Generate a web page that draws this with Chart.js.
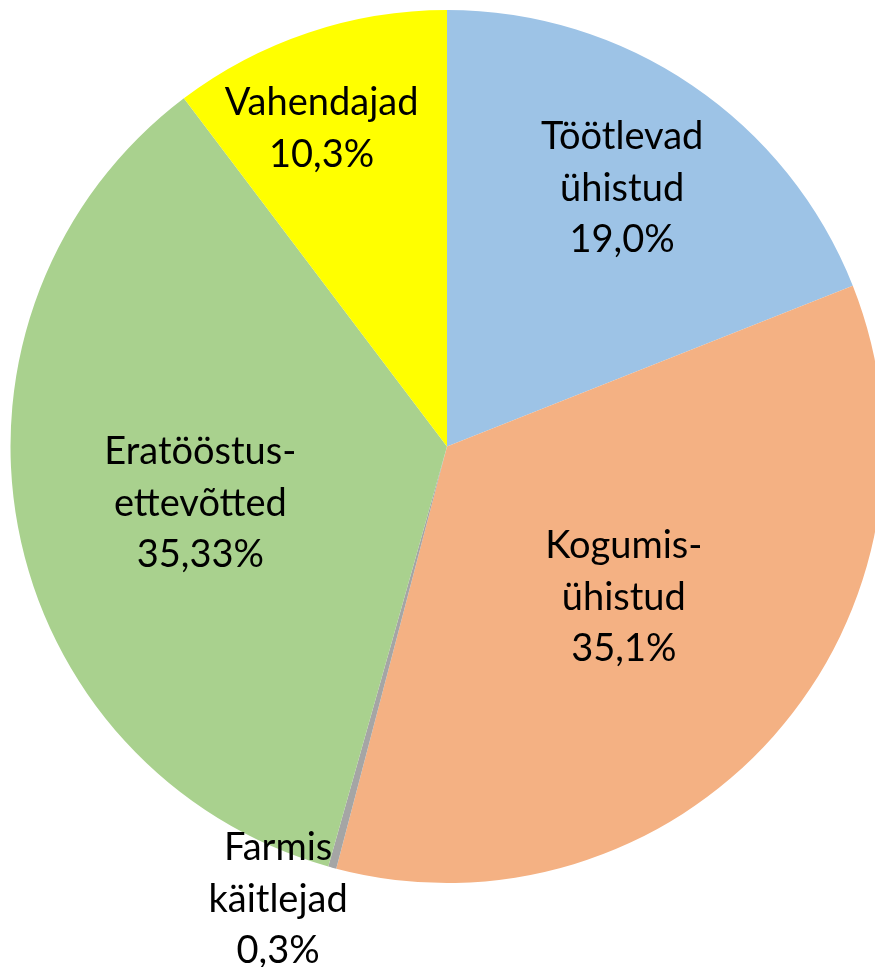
<!DOCTYPE html>
<html>
<head>
<meta charset="utf-8">
<script src="https://cdn.jsdelivr.net/npm/chart.js@4/dist/chart.umd.min.js"></script>
<style>
  html, body { margin: 0; padding: 0; background: #fff; overflow: hidden; }
  #wrap { position: relative; width: 894px; height: 967px; }
</style>
</head>
<body>
<div id="wrap"><canvas id="c"></canvas></div>
<script>
// Data
const categories = [
  ["Töötlevad", "ühistud"],
  ["Kogumis-", "ühistud"],
  ["Farmis", "käitlejad"],
  ["Eratööstus-", "ettevõtted"],
  ["Vahendajad"]
];
const shares = [19.0, 35.1, 0.3, 35.33, 10.3];
const shareLabels = ["19,0%", "35,1%", "0,3%", "35,33%", "10,3%"];

// Styles
const colors = ["#9DC3E6", "#F4B183", "#A5A5A5", "#A9D18E", "#FFFF00"];
const labelRadius = [0.714, 0.533, 1.108, 0.58, 0.783];
const labelAngleOffsetDeg = [0, -1, 5.2, -2.4, -3];

const labelPlugin = {
  id: 'sliceLabels',
  afterDatasetsDraw(chart) {
    const ctx = chart.ctx;
    const meta = chart.getDatasetMeta(0);
    ctx.save();
    ctx.font = '38px Lato, "Open Sans", sans-serif';
    ctx.fillStyle = '#000';
    ctx.textAlign = 'center';
    ctx.textBaseline = 'middle';
    const lh = 51.5;
    meta.data.forEach((arc, i) => {
      const p = arc.getProps(['x', 'y', 'startAngle', 'endAngle', 'outerRadius'], true);
      const mid = (p.startAngle + p.endAngle) / 2 + labelAngleOffsetDeg[i] * Math.PI / 180;
      const d = p.outerRadius * labelRadius[i];
      const cx = p.x + Math.cos(mid) * d;
      const cy = p.y + Math.sin(mid) * d;
      const lines = categories[i].concat([shareLabels[i]]);
      const top = cy - (lines.length - 1) * lh / 2;
      lines.forEach((t, k) => ctx.fillText(t, cx, top + k * lh));
    });
    ctx.restore();
  }
};

new Chart(document.getElementById('c'), {
  type: 'pie',
  data: {
    labels: categories.map(c => c.join(' ')),
    datasets: [{
      data: shares,
      backgroundColor: colors,
      borderWidth: 0
    }]
  },
  options: {
    responsive: true,
    maintainAspectRatio: false,
    animation: false,
    layout: { padding: { left: 10, right: 10, top: 10, bottom: 84 } },
    plugins: { legend: { display: false }, tooltip: { enabled: false } }
  },
  plugins: [labelPlugin]
});
</script>
</body>
</html>
